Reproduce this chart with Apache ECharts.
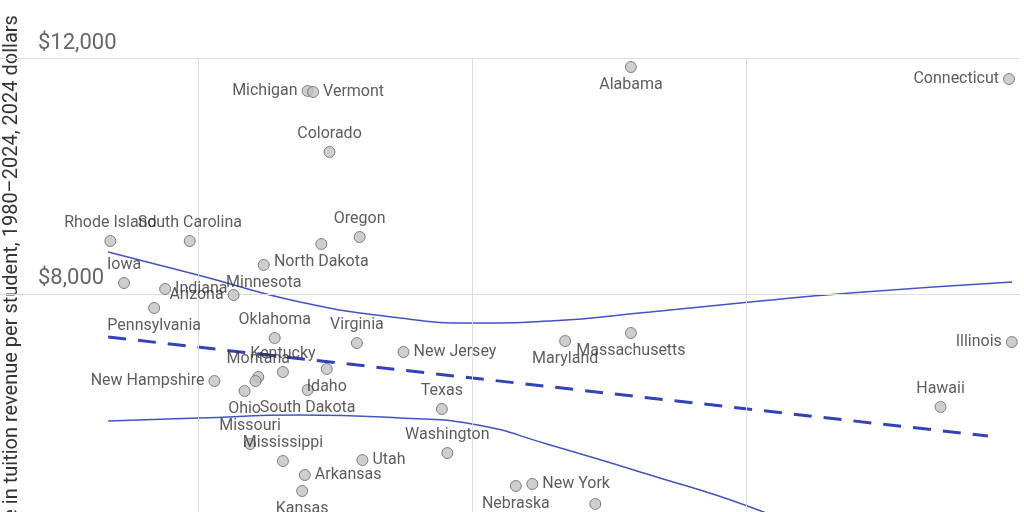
<!DOCTYPE html>
<html lang="en">
<head>
<meta charset="UTF-8">
<title>Tuition revenue</title>
<script src="https://cdn.jsdelivr.net/npm/echarts@6/dist/echarts.min.js"></script>
<style>html,body{margin:0;background:#fff}</style>
</head>
<body>
<div id="main" style="width:1024px;height:512px"></div>
<script>
// states and values (x: unlabeled measure, y: change in tuition revenue per student)
var states = ['Michigan','Vermont','Alabama','Connecticut','Colorado','Rhode Island','South Carolina','Oregon','North Dakota','Minnesota',
  'Iowa','Indiana','Arizona','Pennsylvania','Oklahoma','Virginia','New Jersey','Maryland','Massachusetts','Illinois',
  'Kentucky','Idaho','New Hampshire','Montana','','Ohio','South Dakota','Texas','Hawaii','Missouri',
  'Mississippi','Utah','Washington','Arkansas','Kansas','New York','Nebraska',''];
var xVals = [0.40,0.42,1.58,2.96,0.48,-0.32,-0.03,0.59,0.45,0.24,
  -0.27,-0.12,0.13,-0.16,0.28,0.58,0.75,1.34,1.58,2.97,
  0.31,0.47,0.06,0.22,0.21,0.17,0.40,0.89,2.71,0.19,
  0.31,0.60,0.91,0.39,0.38,1.22,1.16,1.45];
var yVals = [11441,11424,11847,11644,10407,8898,8898,8966,8847,8492,
  8186,8085,7983,7763,7254,7169,7017,7203,7339,7186,
  6678,6729,6525,6593,6525,6356,6373,6051,6085,5458,
  5169,5186,5305,4932,4661,4780,4746,4441];
// fit line and confidence band
var fitX = [-0.328, 2.883];
var fitY = [7271, 5593];
var bandX = [-0.328,0,0.372,0.737,1,1.285,1.650,2.015,2.380,2.971];
var bandUpper = [8712,8322,7864,7593,7508,7542,7695,7864,8017,8203];
var bandLower = [5847,5898,5949,5898,5797,5441,4932,4390,3695,2475];
var xGrid = [0, 1, 2];
var yTicks = [4000, 8000, 12000];

// label placement per state
var place = {
  'Michigan':['left',[0,-8]],'Vermont':['right',[0,5]],'Alabama':['bottom',[0,0]],'Connecticut':['left',[0,9]],
  'Colorado':['top',[22,0]],'Rhode Island':['top',[0,0]],'South Carolina':['top',[47,0]],'Oregon':['top',[27,0]],
  'North Dakota':['bottom',[55,0]],'Minnesota':['bottom',[41,0]],'Iowa':['top',[19,0]],'Indiana':['right',[0,-13]],
  'Arizona':['left',[0,10]],'Pennsylvania':['bottom',[-50,0]],'Oklahoma':['top',[-8,0]],'Virginia':['top',[3,0]],
  'New Jersey':['right',[0,-14]],'Maryland':['bottom',[-4,0]],'Massachusetts':['bottom',[46,0]],'Illinois':['left',[0,0]],
  'Kentucky':['top',[42,0]],'Idaho':['bottom',[38,0]],'New Hampshire':['left',[0,0]],'Montana':['top',[-24,0]],
  'Ohio':['bottom',[-7,0]],'South Dakota':['bottom',[37,0]],'Texas':['top',[21,0]],'Hawaii':['top',[28,0]],
  'Missouri':['top',[-7,0]],'Mississippi':['top',[29,0]],'Utah':['right',[0,-10]],'Washington':['top',[44,0]],
  'Arkansas':['right',[0,0]],'Kansas':['bottom',[-24,0]],'New York':['right',[0,-13]],'Nebraska':['bottom',[3,0]]
};

var pts = states.map(function (s, i) {
  var p = place[s];
  return {
    name: s, value: [xVals[i], yVals[i]],
    label: p ? { show: true, position: p[0], offset: p[1], distance: 4 } : { show: false }
  };
});
var lower = bandX.map(function (x, i) { return [x, bandLower[i]]; });
var width = bandX.map(function (x, i) { return [x, bandUpper[i] - bandLower[i]]; });
var upper = bandX.map(function (x, i) { return [x, bandUpper[i]]; });

var myChart = echarts.init(document.getElementById('main'));
myChart.setOption({
  animation: false,
  textStyle: { fontFamily: 'Roboto' },
  grid: { left: 0, right: 4, top: 58, bottom: 0 },
  xAxis: {
    type: 'value', min: -0.7226, max: 3,
    axisLine: { show: false }, axisTick: { show: false }, axisLabel: { show: false },
    splitLine: { show: false }
  },
  yAxis: {
    type: 'value', min: 4305, max: 12000,
    axisLine: { show: false }, axisTick: { show: false }, axisLabel: { show: false },
    splitLine: { show: false }
  },
  graphic: [{
    type: 'text', x: 12, y: 296, rotation: Math.PI / 2,
    style: { text: 'Change in tuition revenue per student, 1980–2024, 2024 dollars', fill: '#333',
      font: '20px Roboto', align: 'center', verticalAlign: 'middle' }
  }],
  series: [
    { type: 'scatter', data: [], clip: false, silent: true,
      markLine: {
        symbol: 'none', silent: true, animation: false,
        lineStyle: { color: '#ddd', type: 'solid', width: 1 },
        data: xGrid.map(function (v) { return { xAxis: v, label: { show: false } }; }).concat(
          yTicks.map(function (v) {
            return { yAxis: v, label: { show: true, position: 'insideStartTop', distance: [38, 4],
              formatter: '$' + v.toLocaleString('en-US'), color: '#666', fontSize: 22 } };
          }))
      }
    },
    { type: 'line', data: lower, smooth: true, stack: 'band', symbol: 'none', silent: true,
      lineStyle: { color: '#4353c4', width: 1.5 }, z: 1 },
    { type: 'line', data: width, smooth: true, stack: 'band', symbol: 'none', silent: true,
      lineStyle: { width: 0 }, areaStyle: { color: '#d4d8f0', opacity: 1 }, z: 1 },
    { type: 'line', data: upper, smooth: true, symbol: 'none', silent: true,
      lineStyle: { color: '#4353c4', width: 1.5 }, z: 2 },
    { type: 'line', data: fitX.map(function (x, i) { return [x, fitY[i]]; }), symbol: 'none',
      lineStyle: { color: '#3242b8', width: 3, type: [18, 12] }, z: 3 },
    { type: 'scatter', data: pts, symbolSize: 11, clip: false, z: 5,
      itemStyle: { color: '#c2c2c4', borderColor: '#666', borderWidth: 1 },
      label: { color: '#333', fontSize: 16, formatter: '{b}' }, labelLayout: { hideOverlap: false } }
  ]
});
</script>
</body>
</html>
